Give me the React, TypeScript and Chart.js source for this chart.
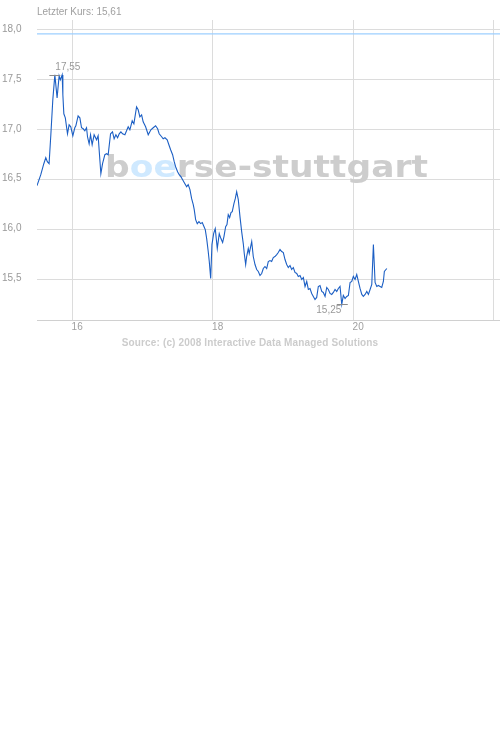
import React, { useEffect, useRef } from 'react';
import { Chart, registerables, Plugin } from 'chart.js';

Chart.register(...registerables);

// trading days (x) and closing prices
const xDays = [
  15.5, 15.554, 15.597, 15.625, 15.647, 15.672, 15.697, 15.725, 15.754, 15.775,
  15.786, 15.803, 15.815, 15.832, 15.858, 15.868, 15.882, 15.903, 15.934, 15.957,
  15.981, 16.01, 16.038, 16.053, 16.085, 16.11, 16.134, 16.157, 16.181, 16.205,
  16.219, 16.242, 16.262, 16.285, 16.313, 16.348, 16.37, 16.409, 16.433, 16.466,
  16.49, 16.513, 16.547, 16.575, 16.598, 16.623, 16.647, 16.67, 16.694, 16.718,
  16.751, 16.798, 16.822, 16.855, 16.879, 16.917, 16.94, 16.964, 16.989, 17.011,
  17.046, 17.083, 17.121, 17.154, 17.188, 17.217, 17.239, 17.274, 17.296, 17.321,
  17.353, 17.377, 17.402, 17.43, 17.453, 17.473, 17.501, 17.524, 17.548, 17.573,
  17.605, 17.63, 17.652, 17.677, 17.701, 17.724, 17.738, 17.758, 17.781, 17.805,
  17.829, 17.852, 17.876, 17.895, 17.915, 17.937, 17.952, 17.972, 17.99, 18.014,
  18.037, 18.066, 18.094, 18.118, 18.142, 18.161, 18.185, 18.204, 18.222, 18.242,
  18.261, 18.279, 18.303, 18.322, 18.342, 18.365, 18.389, 18.413, 18.436, 18.45,
  18.47, 18.484, 18.507, 18.521, 18.541, 18.556, 18.578, 18.603, 18.627, 18.65,
  18.674, 18.698, 18.721, 18.745, 18.769, 18.792, 18.816, 18.84, 18.863, 18.887,
  18.912, 18.934, 18.959, 18.983, 19.006, 19.03, 19.054, 19.077, 19.101, 19.125,
  19.148, 19.172, 19.197, 19.219, 19.244, 19.268, 19.291, 19.315, 19.339, 19.362,
  19.386, 19.41, 19.433, 19.457, 19.481, 19.504, 19.528, 19.553, 19.575, 19.6,
  19.624, 19.647, 19.671, 19.695, 19.718, 19.742, 19.766, 19.789, 19.813, 19.838,
  19.86, 19.885, 19.909, 19.932, 19.956, 19.98, 20.003, 20.027, 20.051, 20.074,
  20.098, 20.123, 20.145, 20.17, 20.194, 20.217, 20.241, 20.265, 20.288, 20.312,
  20.336, 20.359, 20.383, 20.407, 20.43, 20.444, 20.479,
];

const prices = [
  16.44, 16.55, 16.66, 16.72, 16.68, 16.66, 16.95, 17.3, 17.55, 17.4,
  17.32, 17.45, 17.54, 17.5, 17.55, 17.35, 17.16, 17.12, 16.96, 17.05,
  17.03, 16.94, 17.02, 17.04, 17.14, 17.12, 17.02, 17.01, 16.99, 17.02,
  16.93, 16.86, 16.95, 16.85, 16.95, 16.9, 16.94, 16.56, 16.66, 16.75,
  16.76, 16.75, 16.96, 16.98, 16.91, 16.95, 16.92, 16.96, 16.98, 16.96,
  16.95, 17.03, 17.0, 17.09, 17.06, 17.23, 17.2, 17.13, 17.15, 17.08,
  17.03, 16.95, 17.0, 17.02, 17.04, 17.01, 16.96, 16.93, 16.91, 16.92,
  16.9, 16.85, 16.8, 16.75, 16.68, 16.63, 16.58, 16.55, 16.53, 16.5,
  16.46, 16.43, 16.45, 16.4, 16.31, 16.25, 16.2, 16.1, 16.06, 16.08,
  16.06, 16.07, 16.03, 16.0, 15.91, 15.78, 15.68, 15.51, 15.85, 15.96,
  16.01, 15.81, 15.96, 15.91, 15.87, 15.93, 16.03, 16.05, 16.15, 16.12,
  16.17, 16.18, 16.26, 16.31, 16.38, 16.3, 16.13, 15.98, 15.86, 15.76,
  15.65, 15.73, 15.81, 15.76, 15.83, 15.88, 15.73, 15.65, 15.6, 15.58,
  15.54, 15.56, 15.61, 15.63, 15.61, 15.68, 15.69, 15.68, 15.72, 15.73,
  15.75, 15.77, 15.8, 15.78, 15.77, 15.7, 15.65, 15.62, 15.64, 15.6,
  15.62, 15.57, 15.56, 15.53, 15.54, 15.5, 15.52, 15.43, 15.48, 15.4,
  15.41, 15.36, 15.33, 15.3, 15.32, 15.43, 15.44, 15.38, 15.37, 15.33,
  15.42, 15.4, 15.36, 15.35, 15.37, 15.4, 15.38, 15.41, 15.43, 15.25,
  15.34, 15.31, 15.33, 15.34, 15.47, 15.48, 15.53, 15.5, 15.55, 15.48,
  15.41, 15.35, 15.33, 15.35, 15.38, 15.35, 15.4, 15.45, 15.85, 15.47,
  15.43, 15.44, 15.43, 15.42, 15.48, 15.58, 15.61,
];

const referenceLevel = 17.96;
const xRange = [15.5, 22.09];
const yRange = [15.087, 18.1];
const xTicks = [16, 18, 20, 22];
const xTickLabels = ['16', '18', '20', ''];
const yTicks = [15.5, 16.0, 16.5, 17.0, 17.5, 18.0];
const titlePrefix = 'Letzter Kurs: ';
const sourceNote = 'Source: (c) 2008 Interactive Data Managed Solutions';
const watermarkParts = [
  { text: 'b', tone: 'grey' },
  { text: 'oe', tone: 'blue' },
  { text: 'rse-stuttgart', tone: 'grey' },
];

const comma = (v: number, digits: number) => v.toFixed(digits).replace('.', ',');

const decorPlugin: Plugin<'line'> = {
  id: 'decor',
  beforeDatasetsDraw(chart) {
    const { ctx, chartArea } = chart;
    ctx.save();
    ctx.font = 'bold 31px "DejaVu Sans"';
    const full = watermarkParts.map(p => p.text).join('');
    const targetW = 323;
    const sx = targetW / ctx.measureText(full).width;
    const cx = (chartArea.left + chartArea.right) / 2 - 2;
    const baseY = (chartArea.top + chartArea.bottom) / 2 + 7;
    ctx.translate(cx - targetW / 2, baseY);
    ctx.scale(sx, 1);
    ctx.textBaseline = 'alphabetic';
    let x = 0;
    for (const part of watermarkParts) {
      ctx.fillStyle = part.tone === 'blue' ? '#cfe9ff' : '#cdcdcd';
      ctx.fillText(part.text, x, 0);
      x += ctx.measureText(part.text).width;
    }
    ctx.restore();
  },
  afterDatasetsDraw(chart) {
    const { ctx, chartArea, scales } = chart;
    const xs = scales.x;
    const ys = scales.y;
    ctx.save();

    // header
    ctx.font = '10px "Liberation Sans"';
    ctx.fillStyle = '#a0a0a0';
    ctx.textAlign = 'left';
    ctx.textBaseline = 'middle';
    ctx.fillText(titlePrefix + comma(prices[prices.length - 1], 2), chartArea.left, 12);

    // high / low markers
    const hi = Math.max(...prices);
    const lo = Math.min(...prices);
    const hiIdx = prices.indexOf(hi);
    const loIdx = prices.indexOf(lo);
    const hx = xs.getPixelForValue(xDays[hiIdx]);
    const hy = Math.round(ys.getPixelForValue(hi)) + 0.5;
    const lx = xs.getPixelForValue(xDays[loIdx]);
    const ly = Math.round(ys.getPixelForValue(lo)) + 0.5;
    ctx.strokeStyle = '#8c8c8c';
    ctx.lineWidth = 1;
    ctx.beginPath();
    ctx.moveTo(hx - 5.5, hy);
    ctx.lineTo(hx + 5.5, hy);
    ctx.moveTo(lx - 5, ly);
    ctx.lineTo(lx + 6, ly);
    ctx.stroke();
    ctx.fillStyle = '#999999';
    ctx.textAlign = 'left';
    ctx.textBaseline = 'bottom';
    ctx.fillText(comma(hi, 2), hx + 0.5, hy - 3);
    ctx.textAlign = 'right';
    ctx.textBaseline = 'top';
    ctx.fillText(comma(lo, 2), lx - 0.5, ly + 1);

    // source line
    ctx.font = 'bold 10px "Liberation Sans"';
    (ctx as any).letterSpacing = '0.15px';
    ctx.fillStyle = '#cccccc';
    ctx.textAlign = 'center';
    ctx.textBaseline = 'middle';
    ctx.fillText(sourceNote, chart.width / 2, 343);
    ctx.restore();
  },
};

const PriceChart: React.FC = () => {
  const ref = useRef<HTMLCanvasElement>(null);
  const chartRef = useRef<Chart | null>(null);

  useEffect(() => {
    if (!ref.current) return;
    if (chartRef.current) chartRef.current.destroy();

    const gridColor = '#dcdcdc';
    const tickFont = { family: '"Liberation Sans", Arial, sans-serif', size: 10 };

    chartRef.current = new Chart(ref.current, {
      type: 'line',
      data: {
        datasets: [
          {
            label: 'Kurs',
            data: xDays.map((d, i) => ({ x: d, y: prices[i] })),
            borderColor: '#1c5fc4',
            borderWidth: 1.1,
            pointRadius: 0,
            tension: 0,
            fill: false,
          },
          {
            label: 'Referenz',
            data: [
              { x: xRange[0], y: referenceLevel },
              { x: xRange[1], y: referenceLevel },
            ],
            borderColor: '#9dcfff',
            borderWidth: 1.3,
            pointRadius: 0,
            fill: false,
          },
        ],
      },
      options: {
        animation: false,
        responsive: false,
        events: [],
        layout: { padding: { top: 20, left: 2, right: 0, bottom: 0 } },
        plugins: {
          legend: { display: false },
          title: { display: false },
          tooltip: { enabled: false },
        },
        scales: {
          x: {
            type: 'linear',
            min: xRange[0],
            max: xRange[1],
            afterBuildTicks: (s: any) => {
              s.ticks = xTicks.map(v => ({ value: v }));
            },
            afterFit: (s: any) => {
              s.height = 39.3;
            },
            grid: { color: gridColor, drawTicks: false },
            border: { display: true, color: '#d0d0d0' },
            ticks: {
              autoSkip: false,
              maxRotation: 0,
              color: '#a0a0a0',
              font: tickFont,
              padding: 1,
              labelOffset: 5,
              callback: (v: any) => {
                const i = xTicks.indexOf(Number(v));
                return i >= 0 ? xTickLabels[i] : '';
              },
            },
          },
          y: {
            type: 'linear',
            min: yRange[0],
            max: yRange[1],
            afterBuildTicks: (s: any) => {
              s.ticks = yTicks.map(v => ({ value: v }));
            },
            afterFit: (s: any) => {
              s.width = 35;
            },
            grid: { color: gridColor, drawTicks: false },
            border: { display: false },
            ticks: {
              color: '#999999',
              font: tickFont,
              crossAlign: 'far',
              labelOffset: -1,
              callback: (v: any) => comma(Number(v), 1),
            },
          },
        },
      },
      plugins: [decorPlugin],
    });

    return () => {
      if (chartRef.current) {
        chartRef.current.destroy();
        chartRef.current = null;
      }
    };
  }, []);

  return (
    <div style={{ position: 'absolute', left: 0, top: 0, width: 500, height: 360 }}>
      <canvas ref={ref} width={500} height={360}></canvas>
    </div>
  );
};

export default function App() {
  return <PriceChart />;
}
